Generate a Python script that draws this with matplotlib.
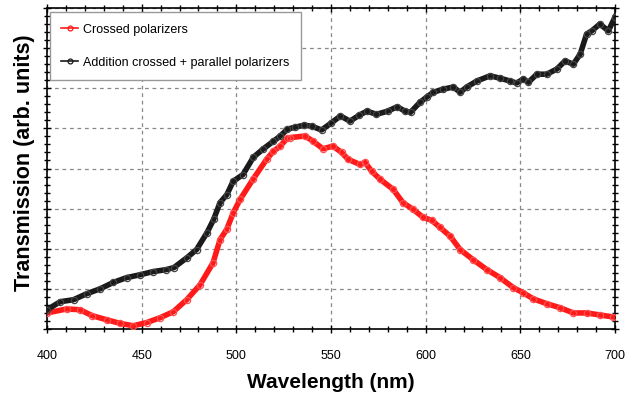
import matplotlib
matplotlib.use("Agg")
import matplotlib.pyplot as plt
from matplotlib.ticker import MultipleLocator, NullFormatter

plt.rcParams['font.family'] = ['Liberation Sans', 'DejaVu Sans']

# Crossed polarizers (red)
wl_crossed = [400, 410.4, 417.4, 424, 431.5, 438.6, 445.6, 452.6, 459.7, 466.7, 473.8,
              480.8, 487.7, 491.4, 494.9, 498.4, 502, 508.8, 516, 519.6, 523, 526.8,
              528.4, 536.3, 540.5, 545.8, 551, 555.6, 559, 565.3, 568, 571.5, 576,
              582.8, 588, 593.4, 598.7, 603.2, 607.6, 613, 618.2, 625, 632.3, 639.3,
              646.3, 651.6, 656.9, 664, 671, 678, 685, 692, 699]
tr_crossed = [0.40, 0.50, 0.48, 0.33, 0.23, 0.14, 0.08, 0.16, 0.28, 0.43, 0.73,
              1.10, 1.65, 2.23, 2.48, 2.90, 3.23, 3.73, 4.23, 4.43, 4.55, 4.75,
              4.77, 4.81, 4.68, 4.49, 4.56, 4.40, 4.23, 4.10, 4.15, 3.93, 3.73,
              3.48, 3.15, 2.98, 2.78, 2.71, 2.53, 2.31, 1.98, 1.73, 1.48, 1.28,
              1.03, 0.90, 0.75, 0.63, 0.53, 0.40, 0.40, 0.35, 0.30]

# Addition crossed + parallel polarizers (black)
wl_sum = [400, 407, 414, 421, 428, 435, 442, 449, 456, 463, 467, 474, 479, 484.5,
          488, 491.4, 495, 498.3, 503.5, 509, 514, 519.6, 523, 527, 531, 536, 540,
          545, 550, 555, 560, 565, 569, 574, 580, 585, 589, 592, 597, 600.6, 604,
          609.4, 614.6, 618.2, 621.7, 627, 634, 639.3, 644.6, 648, 651.6, 654.3,
          658.7, 664, 669.3, 673.6, 678, 681.6, 685, 687.7, 692, 696.5, 700]
tr_sum = [0.48, 0.68, 0.73, 0.88, 1.00, 1.16, 1.28, 1.35, 1.43, 1.48, 1.53, 1.78,
          1.98, 2.40, 2.73, 3.15, 3.35, 3.68, 3.85, 4.28, 4.48, 4.68, 4.80, 4.98,
          5.03, 5.08, 5.05, 4.96, 5.13, 5.31, 5.18, 5.33, 5.43, 5.35, 5.43, 5.54,
          5.43, 5.40, 5.65, 5.78, 5.90, 5.98, 6.03, 5.90, 6.03, 6.18, 6.31, 6.25,
          6.18, 6.13, 6.23, 6.15, 6.35, 6.35, 6.48, 6.68, 6.60, 6.85, 7.35, 7.43,
          7.60, 7.43, 7.77]

labels = ["Crossed polarizers", "Addition crossed + parallel polarizers"]
x_ticks = [400, 450, 500, 550, 600, 650, 700]

fig = plt.figure(figsize=(6.36, 3.94), dpi=100)
ax = fig.add_axes([47/636, 65/394, 568/636, 321/394])

ax.plot(wl_crossed, tr_crossed, color='#ff1a1a', lw=4.0, marker='o', ms=4.5,
        mfc='none', mec='#ff5050', mew=0.9, label=labels[0], zorder=3)
ax.plot(wl_sum, tr_sum, color='#1a1a1a', lw=4.0, marker='o', ms=4.5,
        mfc='none', mec='#444444', mew=0.9, label=labels[1], zorder=3)

ax.set_xlim(400, 700)
ax.set_ylim(0, 8)
ax.set_xticks(x_ticks)
ax.xaxis.set_minor_locator(MultipleLocator(10))
ax.yaxis.set_major_locator(MultipleLocator(1))
ax.yaxis.set_minor_locator(MultipleLocator(0.2))
ax.yaxis.set_major_formatter(NullFormatter())

ax.grid(True, which='major', color='#888888', linestyle=(0, (3, 3)), linewidth=0.9)
ax.tick_params(which='both', direction='inout', top=True, right=True,
               labelsize=9, pad=12, width=1, colors='black')
ax.tick_params(which='major', length=6)
ax.tick_params(which='minor', length=4)
for s in ax.spines.values():
    s.set_linewidth(1.2)

ax.set_xlabel("Wavelength (nm)", fontsize=15, fontweight='bold', labelpad=8)
ax.set_ylabel("Transmission (arb. units)", fontsize=15.5, fontweight='bold')
ax.yaxis.set_label_coords(-0.021, 0.517)

leg = ax.legend(loc='upper left', bbox_to_anchor=(0.0053, 0.9866), borderaxespad=0,
                fontsize=9, handlelength=1.36, handletextpad=0.37, labelspacing=1.7,
                borderpad=0.9, fancybox=False, edgecolor='#999999',
                framealpha=1)
for h in leg.get_lines():
    h.set_linewidth(1.2)
    h.set_markersize(3.5)
    h.set_markeredgecolor(h.get_color())
leg.get_frame().set_linewidth(1.0)

fig.savefig("out.png", dpi=100)
